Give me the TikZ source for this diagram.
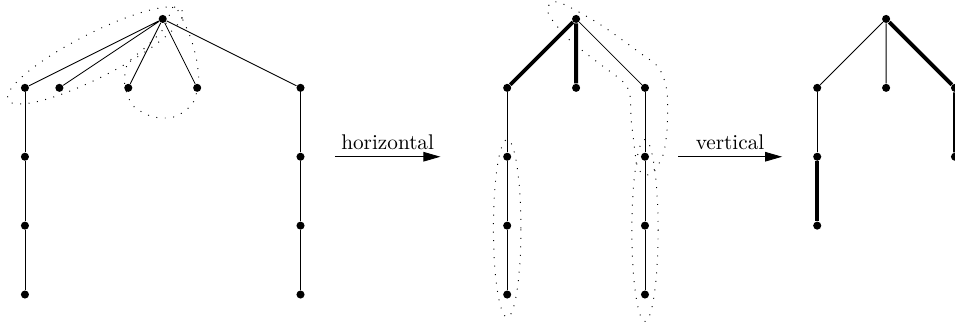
\documentclass[tikz,border=0pt]{standalone}
\usepackage{tikz}
\usetikzlibrary{arrows.meta}

\begin{document}
\begin{tikzpicture}[
  x=1.14cm, y=1.14cm,
  dot/.style={circle, fill, inner sep=0pt, minimum size=3.8pt},
  plain/.style={thin},
  heavy/.style={line width=1.8pt},
  grp/.style={line width=0.45pt, dash pattern=on 0.45pt off 3.55pt},
  arr/.style={-{Triangle[length=8pt, width=4.5pt]}, thin}
]
\useasboundingbox (-0.362,-0.449) rectangle (13.5,4.275);

% first tree
\node[dot] (ar) at (2,4) {};
\node[dot] (a1) at (0,3) {};
\node[dot] (a2) at (0.5,3) {};
\node[dot] (a3) at (1.5,3) {};
\node[dot] (a4) at (2.5,3) {};
\node[dot] (a5) at (4,3) {};
\node[dot] (a1x) at (0,2) {};
\node[dot] (a1y) at (0,1) {};
\node[dot] (a1z) at (0,0) {};
\node[dot] (a5x) at (4,2) {};
\node[dot] (a5y) at (4,1) {};
\node[dot] (a5z) at (4,0) {};
\draw[plain] (ar) -- (a1) (ar) -- (a2) (ar) -- (a3) (ar) -- (a4) (ar) -- (a5);
\draw[plain] (a1) -- (a1x) -- (a1y) -- (a1z);
\draw[plain] (a5) -- (a5x) -- (a5y) -- (a5z);
\draw[grp] (1.02,3.47) ellipse [x radius=1.42, y radius=0.32, rotate=27];
\draw[grp] plot[smooth cycle] coordinates {(2.17,4.19) (2.29,3.99) (2.41,3.71)
  (2.49,3.41) (2.52,3.09) (2.43,2.77) (2.17,2.58) (1.86,2.58) (1.57,2.74)
  (1.45,3.04) (1.49,3.35) (1.74,3.58) (1.99,3.83) (2.09,4.04)};

\coordinate (h1) at (4.5,2);
\coordinate (h2) at (6.03,2);
\draw[arr] (h1) -- node[above] {horizontal} (h2);

% second tree
\node[dot] (br) at (8,4) {};
\node[dot] (b1) at (7,3) {};
\node[dot] (b2) at (8,3) {};
\node[dot] (b3) at (9,3) {};
\node[dot] (b1x) at (7,2) {};
\node[dot] (b1y) at (7,1) {};
\node[dot] (b1z) at (7,0) {};
\node[dot] (b3x) at (9,2) {};
\node[dot] (b3y) at (9,1) {};
\node[dot] (b3z) at (9,0) {};
\draw[heavy] (br) -- (b1) (br) -- (b2);
\draw[plain] (br) -- (b3);
\draw[plain] (b1) -- (b1x) -- (b1y) -- (b1z);
\draw[plain] (b3) -- (b3x) -- (b3y) -- (b3z);
\draw[grp] plot[smooth cycle] coordinates {(7.58,4.16) (7.70,4.25) (7.93,4.16)
  (8.38,3.90) (8.91,3.52) (9.20,3.29) (9.32,2.94) (9.32,2.39) (9.25,1.99)
  (9.06,1.74) (8.91,1.81) (8.86,2.03) (8.80,2.54) (8.78,2.90) (8.68,3.09)
  (8.30,3.38) (7.90,3.70) (7.65,3.99)};
\draw[grp] (7,0.96) ellipse [x radius=0.2, y radius=1.29];
\draw[grp] (9,0.93) ellipse [x radius=0.19, y radius=1.32];

\coordinate (v1) at (9.48,2);
\coordinate (v2) at (10.99,2);
\draw[arr] (v1) -- node[above] {vertical} (v2);

% third tree
\node[dot] (cr) at (12.5,4) {};
\node[dot] (c1) at (11.5,3) {};
\node[dot] (c2) at (12.5,3) {};
\node[dot] (c3) at (13.5,3) {};
\node[dot] (c1x) at (11.5,2) {};
\node[dot] (c1y) at (11.5,1) {};
\node[dot] (c3x) at (13.5,2) {};
\draw[plain] (cr) -- (c1) (cr) -- (c2);
\draw[heavy] (cr) -- (c3) -- (c3x);
\draw[plain] (c1) -- (c1x);
\draw[heavy] (c1x) -- (c1y);
\end{tikzpicture}
\end{document}
